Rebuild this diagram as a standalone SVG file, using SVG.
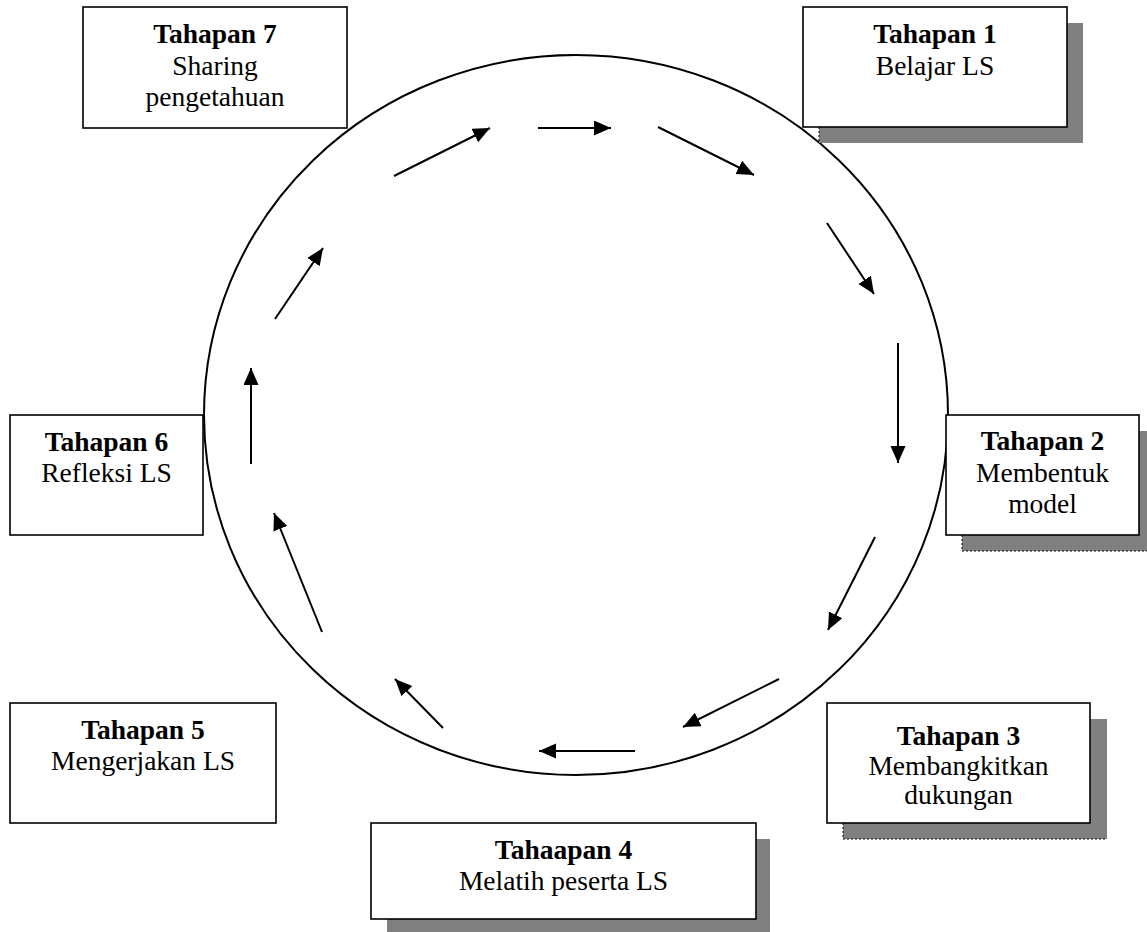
<svg xmlns="http://www.w3.org/2000/svg" width="1147" height="932" viewBox="0 0 1147 932">
<style>
.box{fill:#fff;stroke:#000;stroke-width:1.6}
.sh{fill:#808080;stroke:none}
.dot{fill:none;stroke:#000;stroke-width:1;stroke-dasharray:2,2}
.t{font-family:"Liberation Serif","Times New Roman",serif;font-size:27.5px;text-anchor:middle;fill:#000}
.b{font-weight:bold}
.arr{stroke:#000;stroke-width:2;fill:none;marker-end:url(#ah)}
</style>
<defs>
<marker id="ah" markerUnits="userSpaceOnUse" markerWidth="18" markerHeight="16" refX="17" refY="7.5" orient="auto">
<path d="M0,0 L17,7.5 L0,15 Z" fill="#000"/>
</marker>
</defs>
<rect width="1147" height="932" fill="#fff"/>
<ellipse cx="576" cy="415" rx="372" ry="360" fill="none" stroke="#000" stroke-width="2"/>
<g id="connectors">
<line class="arr" x1="394" y1="176" x2="490" y2="128"/>
<line class="arr" x1="538" y1="128" x2="611" y2="128"/>
<line class="arr" x1="658" y1="127" x2="754" y2="175"/>
<line class="arr" x1="827" y1="223" x2="874" y2="294"/>
<line class="arr" x1="898" y1="343" x2="898" y2="463"/>
<line class="arr" x1="875" y1="537" x2="828" y2="630"/>
<line class="arr" x1="779" y1="679" x2="683" y2="727"/>
<line class="arr" x1="635" y1="751" x2="539" y2="751"/>
<line class="arr" x1="443" y1="728" x2="395" y2="679"/>
<line class="arr" x1="322" y1="632" x2="274" y2="513"/>
<line class="arr" x1="251" y1="464" x2="251" y2="368"/>
<line class="arr" x1="275" y1="319" x2="323" y2="248"/>
</g>
<g id="n1">
<rect class="sh" x="819" y="23" width="264" height="120"/>
<line class="dot" x1="819" y1="127" x2="819" y2="143"/>
<rect class="box" x="803" y="7" width="264" height="120"/>
<text class="t b" x="935" y="43">Tahapan 1</text>
<text class="t" x="935" y="75">Belajar LS</text>
</g>
<g id="n2">
<rect class="sh" x="962" y="431" width="193" height="120"/>
<path class="dot" d="M962,535 V551 H1147"/>
<rect class="box" x="946" y="415" width="193" height="120"/>
<text class="t b" x="1042.5" y="450">Tahapan 2</text>
<text class="t" x="1042.5" y="482">Membentuk</text>
<text class="t" x="1042.5" y="513">model</text>
</g>
<g id="n3">
<rect class="sh" x="843" y="719" width="264" height="120"/>
<path class="dot" d="M843,823 V839 H1107"/>
<rect class="box" x="827" y="703" width="263" height="120"/>
<text class="t b" x="958.5" y="745">Tahapan 3</text>
<text class="t" x="958.5" y="775">Membangkitkan</text>
<text class="t" x="958.5" y="804">dukungan</text>
</g>
<g id="n4">
<rect class="sh" x="387" y="839" width="383" height="96"/>
<rect class="box" x="371" y="823" width="385" height="96"/>
<text class="t b" x="563.5" y="859">Tahaapan 4</text>
<text class="t" x="563.5" y="890">Melatih peserta LS</text>
</g>
<g id="n5">
<rect class="box" x="10" y="703" width="266" height="120"/>
<text class="t b" x="143" y="739">Tahapan 5</text>
<text class="t" x="143" y="770">Mengerjakan LS</text>
</g>
<g id="n6">
<rect class="box" x="10" y="415" width="193" height="120"/>
<text class="t b" x="106.5" y="451">Tahapan 6</text>
<text class="t" x="106.5" y="482">Refleksi LS</text>
</g>
<g id="n7">
<rect class="box" x="83" y="7" width="264" height="121"/>
<text class="t b" x="215" y="43">Tahapan 7</text>
<text class="t" x="215" y="75">Sharing</text>
<text class="t" x="215" y="106">pengetahuan</text>
</g>
</svg>
